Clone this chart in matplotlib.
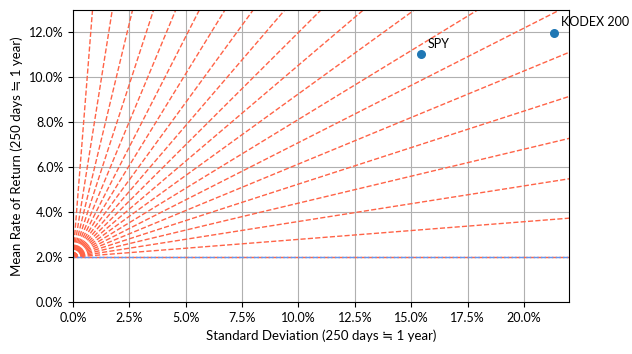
import numpy as np
import matplotlib
matplotlib.use("Agg")
import matplotlib.pyplot as plt
from matplotlib.ticker import PercentFormatter

plt.rcParams['font.family'] = ['Lato', 'DejaVu Sans']

# assets: (std dev, mean return)
names = ['SPY', 'KODEX 200']
std_devs = [0.1542, 0.2133]
mean_returns = [0.1102, 0.1196]

risk_free = 0.02
# rays drawn every 4.5 degrees from the risk-free point
ray_angles = np.arange(0, 90, 4.5)

fig = plt.figure(figsize=(6.32, 3.54), dpi=100)
ax = fig.add_axes([0.1155, 0.1469, 0.7848, 0.8249])

xs = np.array([0, 1.0])
for deg in ray_angles:
    slope = np.tan(np.radians(deg))
    ax.plot(xs, risk_free + slope * xs, color='tomato', linestyle='--', linewidth=1)

# risk-free line, dashes shifted so they sit between the red ones
ax.axhline(risk_free, color='cornflowerblue', linestyle=(2.65, (3.7, 1.6)), linewidth=1)

ax.scatter(std_devs, mean_returns, s=30, color='tab:blue', zorder=3)
for name, x, y in zip(names, std_devs, mean_returns):
    ax.annotate(name, (x, y), xytext=(5, 5), textcoords='offset points', fontsize=9)

ax.set_xlim(0, 0.22)
ax.set_ylim(0, 0.13)
ax.set_xticks(np.arange(0, 0.201, 0.025))
ax.set_yticks(np.arange(0, 0.121, 0.02))
ax.xaxis.set_major_formatter(PercentFormatter(1.0, decimals=1))
ax.yaxis.set_major_formatter(PercentFormatter(1.0, decimals=1))
ax.grid(True, color='#b0b0b0')
ax.set_axisbelow(True)
ax.tick_params(labelsize=9)

ax.set_xlabel('Standard Deviation (250 days ≒ 1 year)', fontsize=9.5)
ax.set_ylabel('Mean Rate of Return (250 days ≒ 1 year)', fontsize=9.5)

fig.savefig('out.png', dpi=100)
